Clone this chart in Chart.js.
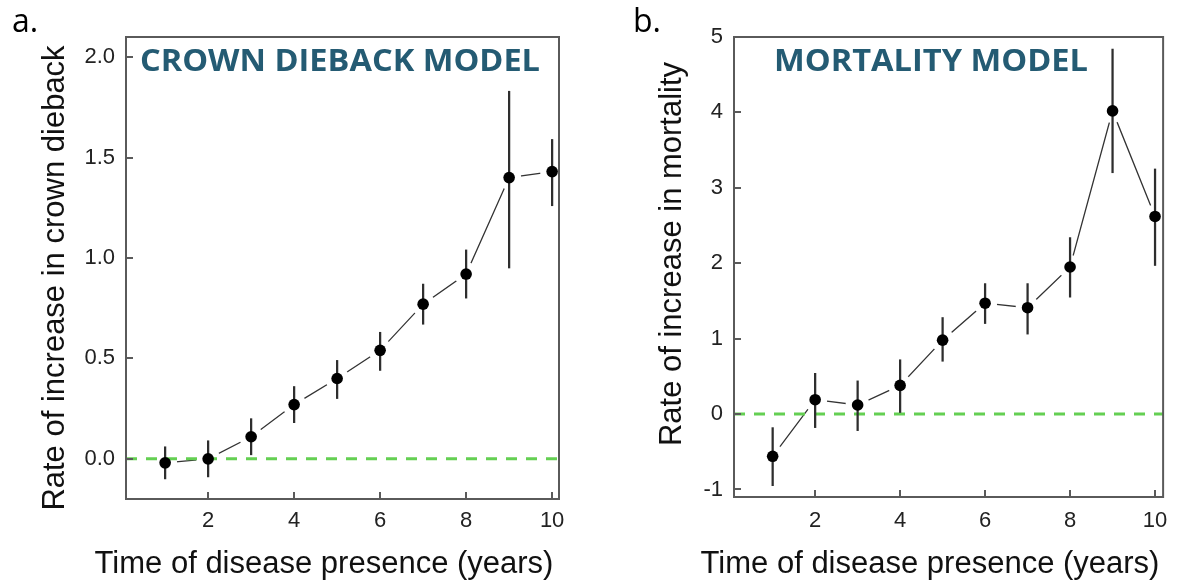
<!DOCTYPE html>
<html>
<head>
<meta charset="utf-8">
<title>Crown dieback and mortality models</title>
<script src="https://cdn.jsdelivr.net/npm/chart.js@4.4.1/dist/chart.umd.min.js"></script>
<style>
  html, body { margin: 0; padding: 0; background: #fff; }
  .wrap { position: relative; width: 1178px; height: 583px; }
  .panel { position: absolute; top: 0; width: 589px; height: 583px; }
  #panelA { left: 0; }
  #panelB { left: 589px; }
</style>
</head>
<body>
<div class="wrap">
  <div class="panel" id="panelA"><canvas id="chartA" width="589" height="583"></canvas></div>
  <div class="panel" id="panelB"><canvas id="chartB" width="589" height="583"></canvas></div>
</div>
<script>
// Years since the disease was first recorded
const years = [1, 2, 3, 4, 5, 6, 7, 8, 9, 10];
const xTicks = [2, 4, 6, 8, 10];

// a. crown dieback model: estimate and interval
const diebackRate = [-0.02, 0.00, 0.11, 0.27, 0.40, 0.54, 0.77, 0.92, 1.40, 1.43];
const diebackLow  = [-0.10, -0.09, 0.02, 0.18, 0.30, 0.44, 0.67, 0.80, 0.95, 1.26];
const diebackHigh = [0.06, 0.09, 0.20, 0.36, 0.49, 0.63, 0.87, 1.04, 1.83, 1.59];
const diebackTicks = [0, 0.5, 1, 1.5, 2];

// b. mortality model: estimate and interval
const mortalityRate = [-0.56, 0.19, 0.12, 0.38, 0.98, 1.47, 1.41, 1.95, 4.02, 2.62];
const mortalityLow  = [-0.95, -0.18, -0.22, 0.02, 0.70, 1.20, 1.06, 1.55, 3.20, 1.97];
const mortalityHigh = [-0.18, 0.54, 0.44, 0.72, 1.28, 1.73, 1.73, 2.34, 4.84, 3.25];
const mortalityTicks = [-1, 0, 1, 2, 3, 4, 5];

const TICK_FONT = { family: '"Liberation Sans", Arial, sans-serif', size: 22 };
const FRAME = '#5a5a5a';

// frame, inward ticks and the text around each panel
const panelDecor = {
  id: "panelDecor",
  afterDraw(chart, args, opts) {
    const { ctx, chartArea: a, scales } = chart;
    ctx.save();

    ctx.strokeStyle = FRAME;
    ctx.lineWidth = 2;
    ctx.beginPath();
    scales.x.ticks.forEach((t) => {
      const px = Math.round(scales.x.getPixelForValue(t.value));
      ctx.moveTo(px, a.bottom);
      ctx.lineTo(px, a.bottom - 7);
    });
    scales.y.ticks.forEach((t) => {
      const py = Math.round(scales.y.getPixelForValue(t.value));
      ctx.moveTo(a.left, py);
      ctx.lineTo(a.left + 7, py);
    });
    ctx.stroke();
    ctx.strokeRect(a.left, a.top, a.right - a.left, a.bottom - a.top);

    // model name inside the frame
    ctx.fillStyle = "#245b73";
    ctx.font = 'bold 30px "Open Sans", sans-serif';
    ctx.textBaseline = "alphabetic";
    const w = ctx.measureText(opts.model).width;
    ctx.save();
    ctx.translate(opts.modelX, opts.modelY);
    ctx.scale(opts.modelW / w, 1);
    ctx.fillText(opts.model, 0, 0);
    ctx.restore();

    // axis titles
    ctx.fillStyle = "#111";
    ctx.font = '31px "Liberation Sans", Arial, sans-serif';
    ctx.textAlign = "center";
    ctx.fillText(opts.xTitle, opts.xTitleX, opts.xTitleY);
    ctx.save();
    ctx.translate(opts.yTitleX, opts.yTitleY);
    ctx.rotate(-Math.PI / 2);
    ctx.fillText(opts.yTitle, 0, 0);
    ctx.restore();

    // panel letter
    ctx.textAlign = "left";
    ctx.fillStyle = "#000";
    ctx.font = '32px "Open Sans", sans-serif';
    ctx.fillText(opts.letter, opts.letterX, opts.letterY);

    ctx.restore();
  },
};

function buildPanel(canvasId, p) {
  const points = years.map((x, i) => ({ x, y: p.rate[i] }));
  return new Chart(document.getElementById(canvasId), {
    type: "scatter",
    data: {
      datasets: [
        {
          type: "scatter",
          data: points,
          pointRadius: 5.8,
          pointBackgroundColor: "#000",
          pointBorderWidth: 0,
          order: 1,
        },
        {
          type: "bar",
          data: years.map((x, i) => ({ x, y: [p.low[i], p.high[i]] })),
          backgroundColor: "#2e2e2e",
          barThickness: 1.6,
          order: 2,
        },
        {
          type: "line",
          data: [{ x: p.xMin, y: 0 }, { x: p.xMax, y: 0 }],
          borderColor: "#64cf52",
          borderWidth: 3,
          borderDash: [11, 9],
          pointRadius: 0,
          order: 3,
        },
        {
          // connecting line, broken around each point like an R type="b" plot
          type: "line",
          data: points,
          borderColor: "#333",
          borderWidth: 1.3,
          tension: 0,
          pointRadius: 12,
          pointBackgroundColor: "#fff",
          pointBorderWidth: 0,
          order: 4,
        },
      ],
    },
    options: {
      responsive: false,
      animation: false,
      devicePixelRatio: 1,
      events: [],
      layout: { padding: { top: 37, right: p.padRight, left: 0, bottom: 0 } },
      plugins: {
        legend: { display: false },
        tooltip: { enabled: false },
        panelDecor: p.decor,
      },
      scales: {
        x: {
          type: "linear",
          min: p.xMin,
          max: p.xMax,
          offset: false,
          grid: { display: false, drawTicks: false },
          border: { display: false },
          afterBuildTicks: (s) => { s.ticks = xTicks.map((v) => ({ value: v })); },
          afterFit: (s) => { s.height = p.xAxisHeight; },
          ticks: { font: TICK_FONT, color: "#222", padding: p.xPad, maxRotation: 0, autoSkip: false },
        },
        y: {
          type: "linear",
          min: p.yMin,
          max: p.yMax,
          grid: { display: false, drawTicks: false },
          border: { display: false },
          afterBuildTicks: (s) => { s.ticks = p.yTicks.map((v) => ({ value: v })); },
          afterFit: (s) => { s.width = p.yAxisWidth; },
          ticks: { font: TICK_FONT, color: "#222", padding: 11, callback: p.fmt },
        },
      },
    },
    plugins: [panelDecor],
  });
}

buildPanel("chartA", {
  rate: diebackRate, low: diebackLow, high: diebackHigh, yTicks: diebackTicks,
  xMin: 0.09, xMax: 10.16, yMin: -0.2, yMax: 2.1,
  padRight: 30, yAxisWidth: 126, xAxisHeight: 84, xPad: 9,
  fmt: (v) => Number(v).toFixed(1),
  decor: {
    model: "CROWN DIEBACK MODEL", modelX: 140, modelY: 71, modelW: 400,
    xTitle: "Time of disease presence (years)", xTitleX: 324, xTitleY: 573,
    yTitle: "Rate of increase in crown dieback", yTitleX: 64, yTitleY: 278,
    letter: "a.", letterX: 12, letterY: 32,
  },
});

buildPanel("chartB", {
  rate: mortalityRate, low: mortalityLow, high: mortalityHigh, yTicks: mortalityTicks,
  xMin: 0.09, xMax: 10.19, yMin: -1.1, yMax: 5.0,
  padRight: 11, yAxisWidth: 145, xAxisHeight: 86, xPad: 10.5,
  fmt: (v) => String(v),
  decor: {
    model: "MORTALITY MODEL", modelX: 185, modelY: 71, modelW: 314,
    xTitle: "Time of disease presence (years)", xTitleX: 341, xTitleY: 573,
    yTitle: "Rate of increase in mortality", yTitleX: 92, yTitleY: 254,
    letter: "b.", letterX: 44, letterY: 32,
  },
});
</script>
</body>
</html>
